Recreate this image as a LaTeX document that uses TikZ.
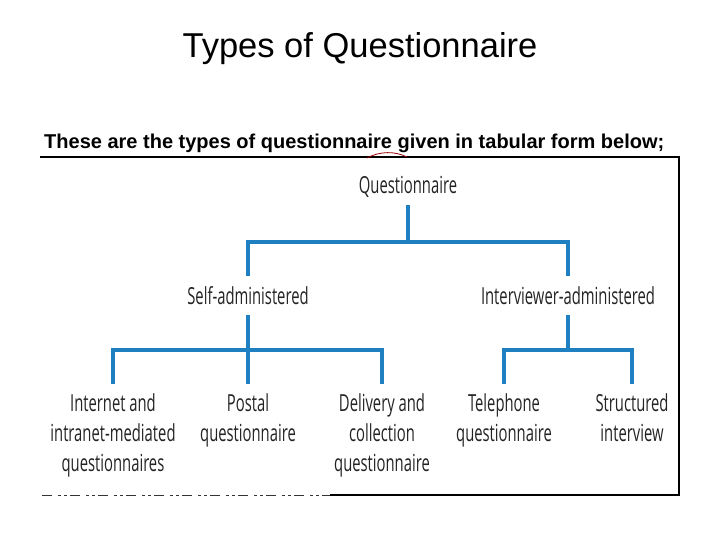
\documentclass[tikz,border=0pt]{standalone}
\usepackage{fontspec}
\setmainfont{Liberation Sans}
\newfontfamily\diagfont[FakeStretch=0.63]{Open Sans}
\definecolor{treeblue}{RGB}{30,128,192}
\definecolor{txtgray}{RGB}{35,35,35}
\tikzset{
  conn/.style={draw=treeblue, line width=4pt, line cap=butt, line join=miter},
  midnode/.style={font=\diagfont\fontsize{23.5}{30}\selectfont, text=txtgray, text height=17pt, text depth=0pt, inner ysep=11pt, inner xsep=2pt},
  leafnode/.style={font=\diagfont\fontsize{23.5}{30}\selectfont, text=txtgray, align=center, inner ysep=9pt, inner xsep=2pt, anchor=north},
  frameline/.style={draw=black, line width=1.3pt}
}
\begin{document}
\begin{tikzpicture}[x=1pt,y=-1pt]
\useasboundingbox (0,0) rectangle (720,540);
% titles
\node[font=\fontsize{34.5}{40}\selectfont, anchor=base] (title) at (360,58) {Types of Questionnaire};
\node[font=\bfseries\fontsize{20}{24}\selectfont, anchor=base west, inner sep=0pt] (sub) at (44,149) {These are the types of questionnaire given in tabular form below;};
% frame
\coordinate (f1) at (40,157);
\coordinate (f2) at (679,157);
\coordinate (f3) at (679,495);
\coordinate (f4) at (330,495);
\coordinate (f5) at (42,495);
\draw[frameline] (f1) -- (f2) -- (f3) -- (f4);
\draw[black!80, line width=1pt, dash pattern=on 10pt off 6pt on 3pt off 3pt on 3pt off 3pt] (f5) -- (f4);
\coordinate (r1) at (367,158);
\coordinate (r2) at (407,157);
\draw[red!60!black, line width=0.8pt] (r1) .. controls (380,151) and (395,151) .. (r2);
% nodes
\node[midnode, anchor=base] (q) at (408,194) {Questionnaire};
\node[midnode, anchor=base] (sa) at (248,304) {Self-administered};
\node[midnode, anchor=base] (ia) at (568,304) {Interviewer-administered};
\node[leafnode] (l1) at (113,384) {Internet and\\intranet-mediated\\questionnaires};
\node[leafnode] (l2) at (248,384) {Postal\\questionnaire};
\node[leafnode] (l3) at (382,384) {Delivery and\\collection\\questionnaire};
\node[leafnode] (l4) at (504,384) {Telephone\\questionnaire};
\node[leafnode] (l5) at (632,384) {Structured\\interview};
% junctions
\coordinate (j1) at (408,242);
\coordinate (j2) at (248,350);
\coordinate (j3) at (568,350);
% connectors
\draw[conn] (q.south) -- (j1);
\draw[conn] (sa.north) |- (j1) -| (ia.north);
\draw[conn] (sa.south) -- (j2);
\draw[conn] (l1.north) |- (j2) -| (l3.north);
\draw[conn] (l2.north) -- (j2);
\draw[conn] (ia.south) -- (j3);
\draw[conn] (l4.north) |- (j3) -| (l5.north);
\end{tikzpicture}
\end{document}
